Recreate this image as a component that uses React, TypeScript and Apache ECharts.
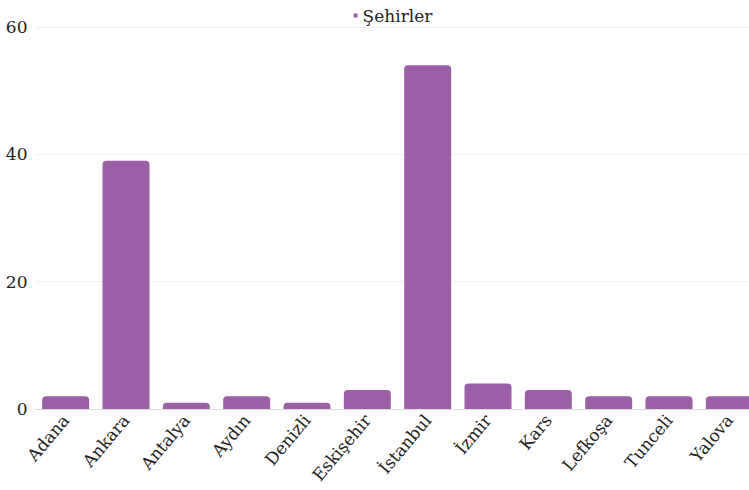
import React, { useEffect, useRef } from "react";
import * as echarts from "echarts";

const categories = ["Adana", "Ankara", "Antalya", "Aydın", "Denizli", "Eskişehir", "İstanbul", "İzmir", "Kars", "Lefkoşa", "Tunceli", "Yalova"];
const values = [2, 39, 1, 2, 1, 3, 54, 4, 3, 2, 2, 2];
const seriesName = "Şehirler";
const yTicks = { min: 0, max: 60, interval: 20 };

const FONT = "'DejaVu Serif', serif";

export default function App() {
  const ref = useRef<HTMLDivElement>(null);
  useEffect(() => {
    if (!ref.current) return;
    const chart = echarts.init(ref.current, null, { renderer: "svg" });
    chart.setOption({
      animation: false,
      textStyle: { fontFamily: FONT },
      legend: {
        data: [seriesName],
        top: 2,
        left: "center",
        icon: "rect",
        itemWidth: 4,
        itemHeight: 4,
        itemGap: 5,
        textStyle: { fontFamily: FONT, fontSize: 17, color: "#222" },
      },
      grid: { left: 35.5, right: 26.5, top: 27, bottom: 81, containLabel: false },
      xAxis: {
        type: "category",
        data: categories,
        axisTick: { show: false },
        axisLine: { lineStyle: { color: "#dcdcdc", width: 1 } },
        axisLabel: { rotate: 50, fontFamily: FONT, fontSize: 17, color: "#222", margin: 8, interval: 0 },
      },
      yAxis: {
        type: "value",
        min: yTicks.min,
        max: yTicks.max,
        interval: yTicks.interval,
        axisLine: { show: false },
        axisTick: { show: false },
        axisLabel: { fontFamily: FONT, fontSize: 17, color: "#222", margin: 8 },
        splitLine: { lineStyle: { color: "#f0f0f0", width: 1 } },
      },
      series: [
        {
          name: seriesName,
          type: "bar",
          data: values,
          barWidth: 47,
          itemStyle: { color: "#9b5fa5", borderRadius: [4, 4, 0, 0] },
        },
      ],
    });
    return () => chart.dispose();
  }, []);
  return (
    <div
      ref={ref}
      style={{ position: "absolute", left: 0, top: 0, width: 786, height: 490 }}
    />
  );
}
